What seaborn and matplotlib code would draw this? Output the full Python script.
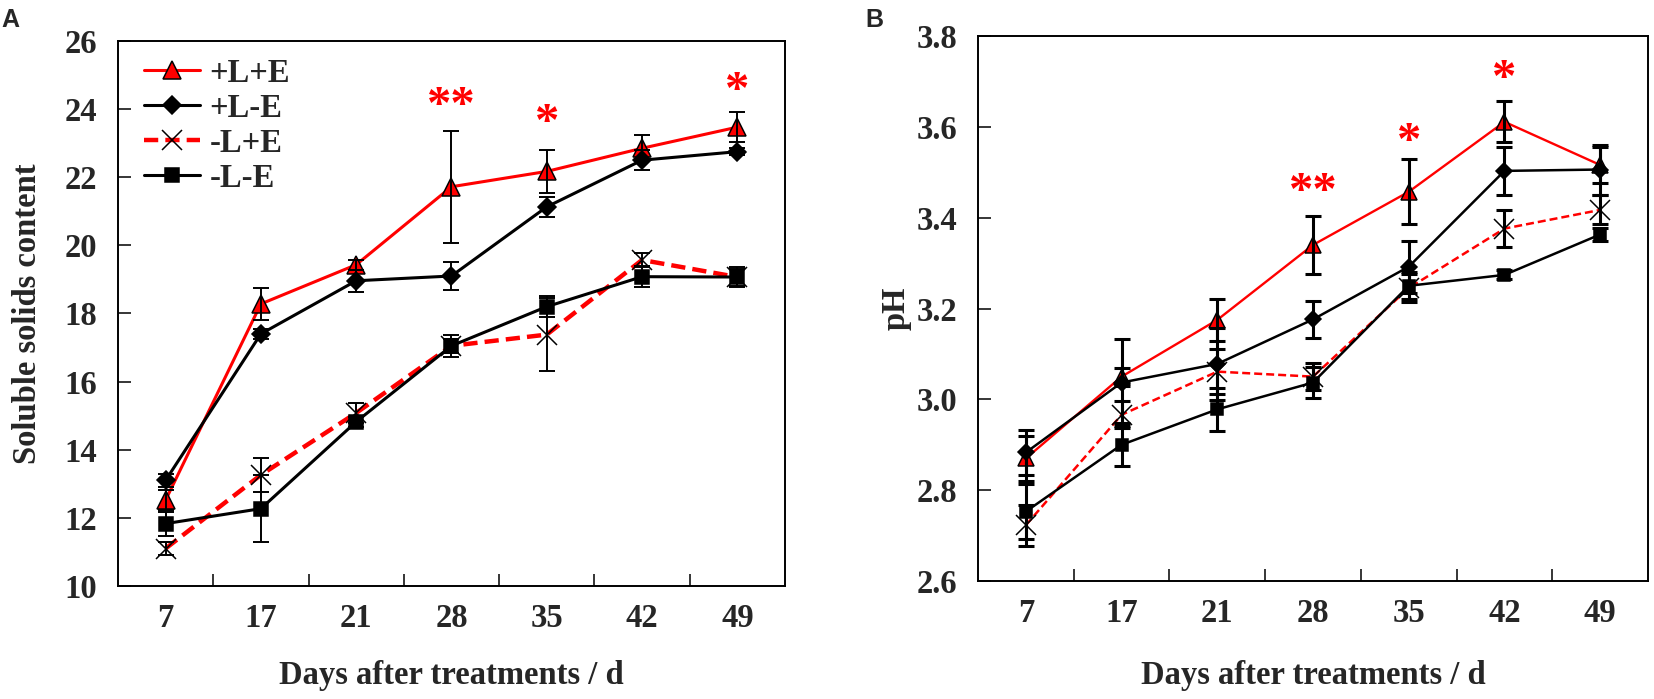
import matplotlib
matplotlib.use("Agg")
import matplotlib.pyplot as plt
import seaborn as sns
import numpy as np

days = [7, 17, 21, 28, 35, 42, 49]
groups = ["+L+E", "+L-E", "-L+E", "-L-E"]

# soluble solids content (panel A)
ssc_lpe = [12.52, 18.28, 19.43, 21.72, 22.17, 22.85, 23.47]
ssc_lpe_err = [0.3, 0.47, 0.15, 1.65, 0.62, 0.38, 0.44]
ssc_lme = [13.1, 17.4, 18.96, 19.1, 21.13, 22.5, 22.75]
ssc_lme_err = [0.2, 0.15, 0.33, 0.42, 0.29, 0.3, 0.1]
ssc_mpe = [11.1, 13.26, 15.08, 17.05, 17.38, 19.57, 19.07]
ssc_mpe_err = [0.2, 0.49, 0.3, 0.2, 1.07, 0.2, 0.25]
ssc_mme = [11.83, 12.27, 14.82, 17.05, 18.2, 19.08, 19.07]
ssc_mme_err = [0.35, 0.98, 0.15, 0.33, 0.3, 0.3, 0.28]
ssc_star_days = [28, 35, 49]
ssc_star_text = ["**", "*", "*"]
ssc_star_y = [24.2, 23.7, 24.65]

# pH (panel B)
ph_lpe = [2.87, 3.05, 3.175, 3.34, 3.457, 3.611, 3.516]
ph_lpe_err = [0.05, 0.02, 0.046, 0.064, 0.072, 0.045, 0.04]
ph_lme = [2.883, 3.037, 3.078, 3.176, 3.292, 3.503, 3.506]
ph_lme_err = [0.05, 0.095, 0.08, 0.04, 0.057, 0.052, 0.055]
ph_mpe = [2.723, 2.966, 3.061, 3.05, 3.245, 3.376, 3.417]
ph_mpe_err = [0.045, 0.03, 0.05, 0.03, 0.03, 0.04, 0.032]
ph_mme = [2.753, 2.9, 2.978, 3.037, 3.25, 3.274, 3.363]
ph_mme_err = [0.06, 0.047, 0.048, 0.035, 0.03, 0.01, 0.015]
ph_star_days = [28, 35, 42]
ph_star_text = ["**", "*", "*"]
ph_star_y = [3.465, 3.575, 3.715]

sns.set_theme(style="ticks")
plt.rcParams["font.family"] = ["Liberation Serif", "DejaVu Serif"]
plt.rcParams["font.weight"] = "bold"
plt.rcParams["axes.labelweight"] = "bold"

RED = "#ff0000"
FS = 23.5
styles = [
    dict(color=RED, marker="^", ls="-", mfc=RED, ms=(13, 12), lw=(2.2, 1.7)),
    dict(color="black", marker="D", ls="-", mfc="black", ms=(9, 8.5), lw=(2.2, 1.8)),
    dict(color=RED, marker="x", ls=(0, (3.2, 1.6)), mfc="none", ms=(14, 15), lw=(3.2, 1.8)),
    dict(color="black", marker="s", ls="-", mfc="black", ms=(10, 9), lw=(2.2, 1.8)),
]


def draw_panel(ax, series, errs, k, ylim, yticks, ylabel, stars):
    pos = np.arange(len(days))
    for g, vals, err, st in zip(groups, series, errs, styles):
        sns.lineplot(x=pos, y=vals, ax=ax, color=st["color"], linestyle=st["ls"],
                     linewidth=st["lw"][k], marker=st["marker"], markersize=st["ms"][k],
                     markerfacecolor=st["mfc"], markeredgecolor="black",
                     markeredgewidth=1.1, label=g, zorder=2)
        ax.errorbar(pos, vals, yerr=err, fmt="none", ecolor="black",
                    elinewidth=(1.4, 2.2)[k], capsize=6, capthick=(1.4, 2.2)[k], zorder=3)
    for d, t, y in zip(*stars):
        ax.text(days.index(d), y, t, color=RED, fontsize=35, ha="center",
                va="center_baseline", fontweight="bold")
    ax.set_xlim(-0.5, len(days) - 0.5)
    ax.set_ylim(*ylim)
    ax.set_yticks(yticks)
    ax.set_xticks(pos)
    ax.set_xticklabels([str(d) for d in days])
    ax.set_xticks(pos[:-1] + 0.5, minor=True)
    ax.tick_params(axis="x", which="major", length=0, pad=12, labelsize=FS)
    ax.tick_params(axis="x", which="minor", direction="in", length=8.5, width=1.3)
    ax.tick_params(axis="y", direction="in", length=9, width=1.3, pad=15, labelsize=FS)
    for sp in ax.spines.values():
        sp.set_visible(True)
        sp.set_linewidth(1.4)
        sp.set_color("black")
    ax.set_xlabel("Days after treatments / d", fontsize=FS, fontweight="bold")
    ax.set_ylabel(ylabel, fontsize=FS, fontweight="bold")


fig = plt.figure(figsize=(16.54, 6.99), dpi=100)
axA = fig.add_axes([0.0713, 0.1617, 0.4033, 0.7797])
axB = fig.add_axes([0.5913, 0.1688, 0.4051, 0.7797])

draw_panel(axA, [ssc_lpe, ssc_lme, ssc_mpe, ssc_mme],
           [ssc_lpe_err, ssc_lme_err, ssc_mpe_err, ssc_mme_err], 0,
           (10, 26), np.arange(10, 27, 2), "Soluble solids content",
           (ssc_star_days, ssc_star_text, ssc_star_y))
draw_panel(axB, [ph_lpe, ph_lme, ph_mpe, ph_mme],
           [ph_lpe_err, ph_lme_err, ph_mpe_err, ph_mme_err], 1,
           (2.6, 3.8), [2.6, 2.8, 3.0, 3.2, 3.4, 3.6, 3.8], "pH",
           (ph_star_days, ph_star_text, ph_star_y))
axB.set_yticklabels([f"{v:.1f}" for v in axB.get_yticks()])

leg = axA.legend(loc="upper left", bbox_to_anchor=(0.01, 1.005), frameon=False,
                 fontsize=FS, handlelength=1.7, labelspacing=0.12,
                 borderaxespad=0.2, handletextpad=0.3)
if axB.get_legend() is not None:
    axB.get_legend().remove()

axA.xaxis.set_label_coords(0.5, -0.136)
axB.xaxis.set_label_coords(0.5, -0.145)
axA.yaxis.set_label_coords(-0.112, 0.5)
axB.yaxis.set_label_coords(-0.0985, 0.5)

fig.text(0.001, 0.988, "A", fontsize=18, fontweight="bold",
         family=["Liberation Sans", "DejaVu Sans"], va="top")
fig.text(0.523, 0.988, "B", fontsize=18, fontweight="bold",
         family=["Liberation Sans", "DejaVu Sans"], va="top")

fig.savefig("out.png", dpi=100)
